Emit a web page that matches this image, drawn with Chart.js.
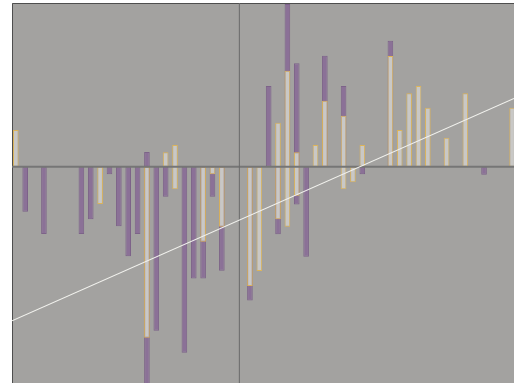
<!doctype html>
<html>
	<head>
		<title>Overlapping range bars</title>
		<script src="https://cdn.jsdelivr.net/npm/chart.js@4/dist/chart.umd.min.js"></script>
		<style>
			body { margin: 0; background: #fff; overflow: hidden; }
		</style>
	</head>
	<body>
		<canvas id="canvas" width="514" height="383"></canvas>

	<script>
	// slot positions along the x axis
	var slots = [0,1,2,3,4,5,6,7,8,9,10,11,12,13,14,15,16,17,18,19,20,21,22,23,24,25,26,
		27,28,29,30,31,32,33,34,35,36,37,38,39,40,41,42,43,44,45,46,47,48,49,50,51,52,53];

	// purple series, bottom and top of each bar (null = no bar)
	var purpleLow = [null,-27.5,null,-41.1,null,null,null,-41.1,-32.1,null,
		-4.6,-36.4,-54.7,-41.1,-145,-100.2,-18.3,null,-113.6,-68.2,
		-68.2,-18.3,-63.5,null,null,-81.7,null,0,-41.3,0,
		-23.0,-55.0,null,0,null,0,null,-4.6,null,null,
		0,null,null,null,null,null,null,null,null,null,
		-4.9,null,null,null];
	var purpleHigh = [null,0,null,0,null,null,null,0,0,null,
		0,0,0,0,9.0,0,0,null,0,0,
		0,0,0,null,null,0,null,49.3,0,99.4,
		63.2,0,null,67.8,null,49.3,null,0,null,null,
		77.0,null,null,null,null,null,null,null,null,null,
		0,null,null,null];

	// grey series, bottom and top of each bar
	var greyLow = [0,null,null,null,null,null,null,null,null,-22.8,
		null,null,null,null,-104.5,null,0,-13.8,null,null,
		-45.8,-4.6,-36.7,null,null,-72.9,-63.7,null,-32.1,-36.7,
		-17.7,null,0,0,null,-13.8,-9.5,0,null,null,
		0,0,0,0,0,null,0,null,0,null,
		null,null,null,0];
	var greyHigh = [22.4,null,null,null,null,null,null,null,null,0,
		null,null,null,null,0,null,8.8,13.3,null,null,
		0,0,0,null,null,0,0,null,26.9,58.6,
		8.8,null,13.3,40.3,null,31.2,0,13.3,null,null,
		67.6,22.4,44.8,49.3,36.0,null,17.7,null,44.8,null,
		null,null,null,36.0];

	// trend line ends
	var trendX = [-0.41, 53.2];
	var trendY = [-94.1, 41.7];

	var xMin = -0.41, xMax = 53.2;
	var yMin = -132.1, yMax = 100;
	var splitX = 23.87;

	var toRanges = function(lo, hi){
		var out = [];
		for(var i=0; i<slots.length; i++){
			if(lo[i] === null) continue;
			out.push({x: slots[i], y: [lo[i], hi[i]]});
		}
		return out;
	};

	var trendData = [];
	for(var t=0; t<trendX.length; t++){
		trendData.push({x: trendX[t], y: trendY[t]});
	}

	var backdrop = {
		id: 'backdrop',
		beforeDraw: function(chart){
			var ctx = chart.ctx, a = chart.chartArea;
			ctx.save();
			ctx.fillStyle = '#ffffff';
			ctx.fillRect(0, 0, chart.width, chart.height);
			ctx.fillStyle = '#a3a2a0';
			ctx.fillRect(a.left, a.top, a.right - a.left, a.bottom - a.top);
			ctx.strokeStyle = '#4e4e4e';
			ctx.lineWidth = 1;
			ctx.beginPath();
			ctx.moveTo(a.left + 0.5, a.bottom);
			ctx.lineTo(a.left + 0.5, a.top + 0.5);
			ctx.lineTo(a.right, a.top + 0.5);
			ctx.stroke();
			ctx.restore();
		},
		// axis lines go over the bars but under the trend line
		beforeDatasetDraw: function(chart, args){
			if(args.index !== 2) return;
			var ctx = chart.ctx, a = chart.chartArea;
			var y0 = chart.scales.y.getPixelForValue(0);
			var x0 = chart.scales.x.getPixelForValue(splitX);
			ctx.save();
			ctx.strokeStyle = '#767676';
			ctx.lineWidth = 2;
			ctx.beginPath();
			ctx.moveTo(a.left, y0);
			ctx.lineTo(a.right, y0);
			ctx.stroke();
			ctx.strokeStyle = '#6a6a6a';
			ctx.lineWidth = 1;
			ctx.beginPath();
			ctx.moveTo(x0, a.top);
			ctx.lineTo(x0, a.bottom);
			ctx.stroke();
			ctx.restore();
		}
	};

	window.onload = function(){
		var ctx = document.getElementById("canvas").getContext("2d");
		window.myChart = new Chart(ctx, {
			type: 'bar',
			data: {
				datasets: [
					{
						data: toRanges(greyLow, greyHigh),
						backgroundColor: '#c9c8c6',
						borderColor: '#dcb45a',
						borderWidth: 1,
						borderSkipped: false,
						grouped: false,
						barPercentage: 0.6,
						categoryPercentage: 1,
						order: 1
					},
					{
						data: toRanges(purpleLow, purpleHigh),
						backgroundColor: '#8b7197',
						borderColor: '#7d6389',
						borderWidth: 1,
						borderSkipped: false,
						grouped: false,
						barPercentage: 0.6,
						categoryPercentage: 1,
						order: 2
					},
					{
						type: 'line',
						data: trendData,
						borderColor: '#f2f2ee',
						borderWidth: 1.2,
						pointRadius: 0,
						fill: false,
						order: 0
					}
				]
			},
			options: {
				responsive: false,
				animation: false,
				layout: { padding: { left: 12, top: 3, right: 0, bottom: 0 } },
				plugins: { legend: { display: false }, tooltip: { enabled: false } },
				scales: {
					x: { type: 'linear', min: xMin, max: xMax, offset: false, display: false,
						ticks: { includeBounds: false } },
					y: { min: yMin, max: yMax, display: false }
				}
			},
			plugins: [backdrop]
		});
	};
	</script>
	</body>
</html>
